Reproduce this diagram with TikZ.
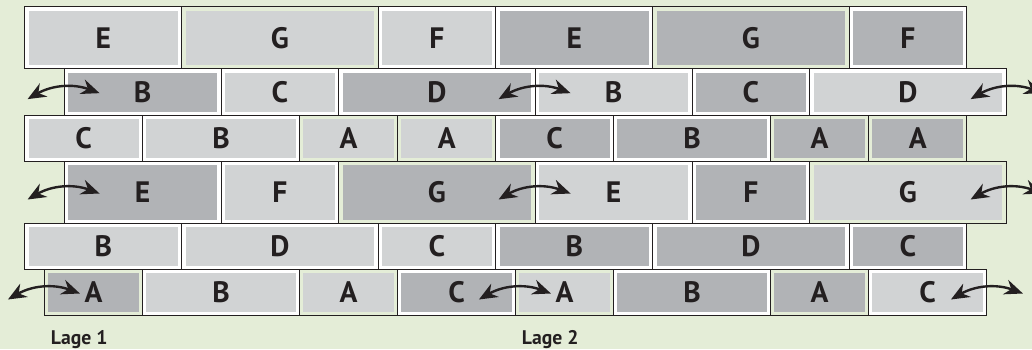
\documentclass[tikz,border=0pt]{standalone}
\usepackage{fontspec}
\setsansfont{PT Sans}
\usepackage{tikz}
\usetikzlibrary{positioning,arrows.meta}
\definecolor{wallbg}{HTML}{E4EDD7}
\definecolor{stoneL}{HTML}{D1D3D4}
\definecolor{stoneD}{HTML}{B1B3B6}
\definecolor{ink}{HTML}{231F20}
\newcommand{\pxu}{0.025cm}
\newcommand{\unitw}{19.625}
\tikzset{
  stone/.style 2 args={draw=ink, line width=0.7pt, inner sep=0pt, anchor=south west,
    fill=#2, text=ink, font=\sffamily\bfseries\fontsize{21}{22}\selectfont,
    path picture={\fill[#1] ([shift={(3.8,3.8)}]path picture bounding box.south west)
      rectangle ([shift={(-3.8,-3.8)}]path picture bounding box.north east);}},
  swap/.style={{Stealth[length=4.6mm,width=3.8mm,inset=1.5mm]}-{Stealth[length=4.6mm,width=3.8mm,inset=1.5mm]},
    draw=ink, line width=1.7pt},
  lage/.style={anchor=base west, text=ink, font=\sffamily\bfseries\fontsize{14}{15}\selectfont}
}

\begin{document}
\begin{tikzpicture}[x=\pxu,y=\pxu]
    \fill[wallbg] (0,0) rectangle (1032,349);
    \useasboundingbox (0,0) rectangle (1032,349);
    % row 1
    \foreach \st/\len/\lbl/\tone/\band [count=\i] in {0/8/E/stoneL/white, 8/10/G/stoneL/wallbg, 18/6/F/stoneL/white,
        24/8/E/stoneD/white, 32/10/G/stoneD/wallbg, 42/6/F/stoneD/white}
        {\node[stone={\tone}{\band}, minimum width=\len*\unitw*\pxu, minimum height=62*\pxu] (r1-\i) at (24.3+\st*\unitw,279.7) {\lbl};}
    % row 2
    \foreach \st/\len/\lbl/\tone/\band [count=\i] in {2/8/B/stoneD/white, 10/6/C/stoneL/white, 16/10/D/stoneD/white,
        26/8/B/stoneL/white, 34/6/C/stoneD/white, 40/10/D/stoneL/white}
        {\node[stone={\tone}{\band}, minimum width=\len*\unitw*\pxu, minimum height=46.7*\pxu] (r2-\i) at (24.3+\st*\unitw,233) {\lbl};}
    % row 3
    \foreach \st/\len/\lbl/\tone/\band [count=\i] in {0/6/C/stoneL/white, 6/8/B/stoneL/white, 14/5/A/stoneL/wallbg, 19/5/A/stoneL/wallbg,
        24/6/C/stoneD/white, 30/8/B/stoneD/white, 38/5/A/stoneD/wallbg, 43/5/A/stoneD/wallbg}
        {\node[stone={\tone}{\band}, minimum width=\len*\unitw*\pxu, minimum height=46*\pxu] (r3-\i) at (24.3+\st*\unitw,187) {\lbl};}
    % row 4
    \foreach \st/\len/\lbl/\tone/\band [count=\i] in {2/8/E/stoneD/white, 10/6/F/stoneL/white, 16/10/G/stoneD/wallbg,
        26/8/E/stoneL/white, 34/6/F/stoneD/white, 40/10/G/stoneL/wallbg}
        {\node[stone={\tone}{\band}, minimum width=\len*\unitw*\pxu, minimum height=62*\pxu] (r4-\i) at (24.3+\st*\unitw,125) {\lbl};}
    % row 5
    \foreach \st/\len/\lbl/\tone/\band [count=\i] in {0/8/B/stoneL/white, 8/10/D/stoneL/white, 18/6/C/stoneL/white,
        24/8/B/stoneD/white, 32/10/D/stoneD/white, 42/6/C/stoneD/white}
        {\node[stone={\tone}{\band}, minimum width=\len*\unitw*\pxu, minimum height=46*\pxu] (r5-\i) at (24.3+\st*\unitw,79) {\lbl};}
    % row 6
    \foreach \st/\len/\lbl/\tone/\band [count=\i] in {1/5/A/stoneD/wallbg, 6/8/B/stoneL/white, 14/5/A/stoneL/wallbg, 19/6/C/stoneD/white,
        25/5/A/stoneL/wallbg, 30/8/B/stoneD/white, 38/5/A/stoneD/wallbg, 43/6/C/stoneL/white}
        {\node[stone={\tone}{\band}, minimum width=\len*\unitw*\pxu, minimum height=46*\pxu] (r6-\i) at (24.3+\st*\unitw,33) {\lbl};}
    % shift arrows
    \foreach \anc [count=\k] in {r2-1.west, r2-4.west, r2-6.east, r4-1.west, r4-4.west, r4-6.east, r6-1.west, r6-5.west, r6-8.east}{
        \coordinate (sw\k a) at ([shift={(-36,-7)}]\anc);
        \coordinate (sw\k b) at ([shift={(36,-1)}]\anc);
        \draw[swap] (sw\k a) to[bend left=25] (sw\k b);
    }
    \node[lage] (lage1) at (46,5) {Lage 1};
    \node[lage] (lage2) at (517,5) {Lage 2};
\end{tikzpicture}
\end{document}
